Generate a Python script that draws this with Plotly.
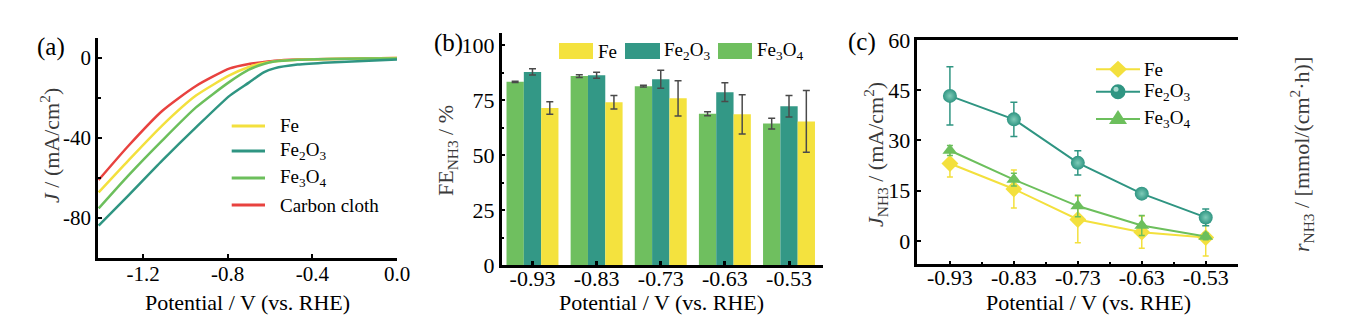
import plotly.graph_objects as go

W, H = 1347, 322

# ---------------- data ----------------
# (a) LSV curves
lsv_potential = [-1.41, -1.27, -1.11, -0.95, -0.79, -0.70, -0.63, -0.58, -0.47, -0.32, -0.16, 0.0]
lsv_fe = [-67.2, -51.3, -33.8, -18.8, -8.6, -4.5, -2.5, -1.7, -0.9, -0.5, -0.3, 0.0]
lsv_fe2o3 = [-83.8, -68.8, -51.3, -34.7, -18.8, -12.3, -7.2, -5.2, -3.3, -2.2, -1.5, -0.8]
lsv_fe3o4 = [-75.2, -58.8, -41.3, -24.7, -11.8, -5.8, -3.0, -1.8, -0.9, -0.5, -0.3, -0.2]
lsv_cc = [-61.0, -44.0, -26.5, -14.0, -5.2, -3.0, -2.0, -1.4, -0.8, -0.5, -0.3, 0.0]

# (b) Faradaic efficiency
categories = ["-0.93", "-0.83", "-0.73", "-0.63", "-0.53"]
fe_fe = [71.4, 74.0, 75.8, 68.5, 65.3]
fe_fe_err = [2.8, 3.1, 8.0, 8.9, 14.0]
fe_fe2o3 = [87.8, 86.3, 84.5, 78.6, 72.2]
fe_fe2o3_err = [1.4, 1.4, 4.1, 4.3, 4.9]
fe_fe3o4 = [83.3, 85.9, 81.3, 68.8, 64.3]
fe_fe3o4_err = [0.3, 0.6, 0.4, 0.9, 2.4]

# (c) partial current density
potentials = [-0.93, -0.83, -0.73, -0.63, -0.53]
j_fe = [23.1, 15.5, 6.4, 2.6, 1.0]
j_fe_err = [4.0, 5.7, 7.0, 4.8, 5.5]
j_fe2o3 = [43.3, 36.3, 23.3, 14.1, 7.0]
j_fe2o3_err = [8.7, 5.1, 3.6, 0.6, 2.5]
j_fe3o4 = [27.0, 18.3, 10.4, 4.6, 1.3]
j_fe3o4_err = [1.5, 1.9, 3.2, 3.0, 1.0]

# tick labels
a_xticks = [-1.2, -0.8, -0.4, 0.0]
a_xticktext = ["-1.2", "-0.8", "-0.4", "0.0"]
a_yticks = [0, -40, -80]
a_yticktext = ["0", "-40", "-80"]
b_yticks = [0, 25, 50, 75, 100]
c_xticktext = ["-0.93", "-0.83", "-0.73", "-0.63", "-0.53"]
c_yticks = [0, 15, 30, 45, 60]
c_y2ticks = [0.0, 0.07, 0.14, 0.21, 0.28]
c_y2ticktext = ["0.00", "0.07", "0.14", "0.21", "0.28"]

# ---------------- style ----------------
FONT = "Liberation Serif"
YEL = "#F3E03D"
TEAL = "#2F9582"
GRN = "#6CBF5C"
RED = "#E8423F"
BAR_YEL = "#F4E23E"
BAR_TEAL = "#339886"
BAR_GRN = "#6FBF5F"
ERRC = "#4a4a4a"
TITLEC = "#3a3a3a"
HILITE = "#7fcbb8"


def px(x):
    return x / W


def py(y):
    return 1 - y / H


fig = go.Figure()

# (a)
for name, ys, col in [("Carbon cloth", lsv_cc, RED), ("Fe", lsv_fe, YEL),
                      ("Fe3O4", lsv_fe3o4, GRN), ("Fe2O3", lsv_fe2o3, TEAL)]:
    fig.add_trace(go.Scatter(x=lsv_potential, y=ys, mode="lines", name=name,
                             line=dict(color=col, width=2.5, shape="spline", smoothing=0.6),
                             xaxis="x", yaxis="y", showlegend=False))

# (b)
for name, ys, err, col in [("Fe3O4", fe_fe3o4, fe_fe3o4_err, BAR_GRN),
                           ("Fe2O3", fe_fe2o3, fe_fe2o3_err, BAR_TEAL),
                           ("Fe", fe_fe, fe_fe_err, BAR_YEL)]:
    fig.add_trace(go.Bar(x=categories, y=ys, name=name, marker=dict(color=col, line=dict(width=0)),
                         error_y=dict(type="data", array=err, color=ERRC, thickness=1.5, width=3.5),
                         xaxis="x2", yaxis="y2", showlegend=False))

# (c)
fig.add_trace(go.Scatter(x=potentials, y=j_fe, mode="lines+markers", name="Fe",
                         line=dict(color=YEL, width=2),
                         marker=dict(symbol="diamond", size=13, color=YEL),
                         error_y=dict(type="data", array=j_fe_err, color=YEL, thickness=1.5, width=3),
                         xaxis="x3", yaxis="y3", showlegend=False))
fig.add_trace(go.Scatter(x=potentials, y=j_fe2o3, mode="lines+markers", name="Fe2O3",
                         line=dict(color=TEAL, width=2),
                         marker=dict(symbol="circle", size=14, color=TEAL,
                                     gradient=dict(type="radial", color=HILITE)),
                         error_y=dict(type="data", array=j_fe2o3_err, color=TEAL, thickness=1.5, width=3.5),
                         xaxis="x3", yaxis="y3", showlegend=False))
fig.add_trace(go.Scatter(x=potentials, y=j_fe3o4, mode="lines+markers", name="Fe3O4",
                         line=dict(color=GRN, width=2),
                         marker=dict(symbol="triangle-up", size=13, color=GRN),
                         error_y=dict(type="data", array=j_fe3o4_err, color=GRN, thickness=1.5, width=3),
                         xaxis="x3", yaxis="y3", showlegend=False))

tickfont_a = dict(family=FONT, size=21, color="black")
tickfont = dict(family=FONT, size=22, color="black")
axcommon = dict(showgrid=False, zeroline=False, showline=True, linecolor="black", linewidth=2.5,
                ticks="inside", ticklen=4, tickwidth=2, tickcolor="black", automargin=False)
minor_style = dict(ticks="inside", ticklen=3, tickwidth=2, tickcolor="black")

minor_c = [(potentials[i] + potentials[i + 1]) / 2 for i in range(len(potentials) - 1)]

fig.update_layout(
    width=W, height=H, autosize=False, showlegend=False,
    margin=dict(l=0, r=0, t=0, b=0, pad=0, autoexpand=False),
    paper_bgcolor="white", plot_bgcolor="white",
    font=dict(family=FONT, color="black"),
    bargap=0.19, bargroupgap=0, barmode="group",
    xaxis=dict(domain=[px(98), px(397)], range=[-1.413, 0.0], anchor="y",
               tickmode="array", tickvals=a_xticks, ticktext=a_xticktext, tickfont=tickfont_a,
               ticklabelstandoff=-5, **axcommon),
    yaxis=dict(domain=[py(258), py(38)], range=[-100, 10], anchor="x",
               tickmode="array", tickvals=a_yticks, ticktext=a_yticktext, tickfont=tickfont_a,
               minor=dict(tickvals=[-20, -60, -100], **minor_style), **axcommon),
    xaxis2=dict(domain=[px(501.7), px(823)], range=[-0.48, 4.53], anchor="y2", type="category",
                tickfont=tickfont, ticklabelstandoff=-8, **{**axcommon, "tickwidth": 3}),
    yaxis2=dict(domain=[py(265), py(33)], range=[0, 105.5], anchor="x2",
                tickmode="array", tickvals=b_yticks, tickfont=tickfont,
                minor=dict(tickvals=[12.5, 37.5, 62.5, 87.5], **minor_style), **axcommon),
    xaxis3=dict(domain=[px(917.3), px(1237.7)], range=[-0.981, -0.48], anchor="y3", mirror=True,
                tickmode="array", tickvals=potentials, ticktext=c_xticktext, tickfont=tickfont,
                ticklabelstandoff=-8, minor=dict(tickvals=minor_c, **minor_style), **axcommon),
    yaxis3=dict(domain=[py(264.3), py(40)], range=[-7, 60], anchor="x3",
                tickmode="array", tickvals=c_yticks, tickfont=tickfont, **axcommon),
    yaxis4=dict(domain=[py(264.3), py(40)], range=[-7 * 0.28 / 60, 0.28], anchor="x3",
                overlaying="y3", side="right",
                tickmode="array", tickvals=c_y2ticks, ticktext=c_y2ticktext, tickfont=tickfont,
                minor=dict(tickvals=[0.035, 0.105, 0.175, 0.245], **minor_style), **axcommon),
)

shapes = []
annotations = []
LEGFONT = dict(family=FONT, size=19, color="black")

# custom legend for (a)
a_leg = [("Fe", YEL, 126), ("Fe<sub>2</sub>O<sub>3</sub>", TEAL, 151), ("Fe<sub>3</sub>O<sub>4</sub>", GRN, 178),
         ("Carbon cloth", RED, 205)]
for label, col, yy in a_leg:
    shapes.append(dict(type="line", xref="paper", yref="paper", x0=px(231.7), x1=px(265),
                       y0=py(yy), y1=py(yy), line=dict(color=col, width=3)))
    annotations.append(dict(text=label, xref="paper", yref="paper", x=px(278), y=py(yy),
                            xanchor="left", yanchor="middle", showarrow=False, font=LEGFONT))

# custom legend for (b)
b_leg = [("Fe", BAR_YEL, 559, 593, 596), ("Fe<sub>2</sub>O<sub>3</sub>", BAR_TEAL, 625, 660, 662),
         ("Fe<sub>3</sub>O<sub>4</sub>", BAR_GRN, 718, 752, 755)]
for label, col, x0, x1, tx in b_leg:
    shapes.append(dict(type="rect", xref="paper", yref="paper", x0=px(x0), x1=px(x1),
                       y0=py(59), y1=py(43), fillcolor=col, line=dict(width=0)))
    annotations.append(dict(text=label, xref="paper", yref="paper", x=px(tx), y=py(51),
                            xanchor="left", yanchor="middle", showarrow=False, font=LEGFONT))

# custom legend for (c): line + marker symbol + text
c_leg = [("Fe", YEL, 69.3, "diamond"), ("Fe<sub>2</sub>O<sub>3</sub>", TEAL, 91.7, "circle"),
         ("Fe<sub>3</sub>O<sub>4</sub>", GRN, 119.0, "triangle")]
for label, col, yy, sym in c_leg:
    shapes.append(dict(type="line", xref="paper", yref="paper", x0=px(1096), x1=px(1140),
                       y0=py(yy), y1=py(yy), line=dict(color=col, width=2)))
    base = dict(xref="paper", yref="paper", xsizemode="pixel", ysizemode="pixel",
                xanchor=px(1118), yanchor=py(yy), fillcolor=col, line=dict(width=0))
    if sym == "diamond":
        shapes.append(dict(type="path", path="M0,8.5 L9,0 L0,-8.5 L-9,0 Z", **base))
    elif sym == "circle":
        shapes.append(dict(type="circle", x0=-7.5, x1=7.5, y0=-7.5, y1=7.5, **base))
        shapes.append(dict(type="circle", x0=-4.5, x1=0.5, y0=0.0, y1=5.0,
                           **{**base, "fillcolor": "#c5ebe1", "opacity": 0.8}))
    else:
        shapes.append(dict(type="path", path="M-9,-5 L9,-5 L0,9 Z", **base))
    annotations.append(dict(text=label, xref="paper", yref="paper", x=px(1142), y=py(yy),
                            xanchor="left", yanchor="middle", showarrow=False, font=LEGFONT))

# panel labels
for lab, xx, yy in [("(a)", 51, 47), ("(b)", 448, 43), ("(c)", 862, 42)]:
    annotations.append(dict(text=lab, xref="paper", yref="paper", x=px(xx), y=py(yy),
                            xanchor="center", yanchor="middle", showarrow=False,
                            font=dict(family=FONT, size=25, color="black")))

# axis titles
xt = "Potential / V (vs. RHE)"
for xx in [247.5, 661, 1088]:
    annotations.append(dict(text=xt, xref="paper", yref="paper", x=px(xx), y=py(302),
                            xanchor="center", yanchor="middle", showarrow=False,
                            font=dict(family=FONT, size=22, color="black")))

ytitles = [
    ("<i>J</i> / (mA/cm<sup>2</sup>)", 50, 146),
    ("FE<sub>NH3</sub> / %", 447, 151),
    ("<i>J</i><sub>NH3</sub> / (mA/cm<sup>2</sup>)", 875, 155),
    ("<i>r</i><sub>NH3</sub> / [mmol/(cm<sup>2</sup>·h)]", 1301, 155),
]
for txt, xx, yy in ytitles:
    annotations.append(dict(text=txt, xref="paper", yref="paper", x=px(xx), y=py(yy),
                            xanchor="center", yanchor="middle", showarrow=False, textangle=-90,
                            font=dict(family=FONT, size=22, color=TITLEC)))

fig.update_layout(shapes=shapes, annotations=annotations)

fig.write_html("out.html")
